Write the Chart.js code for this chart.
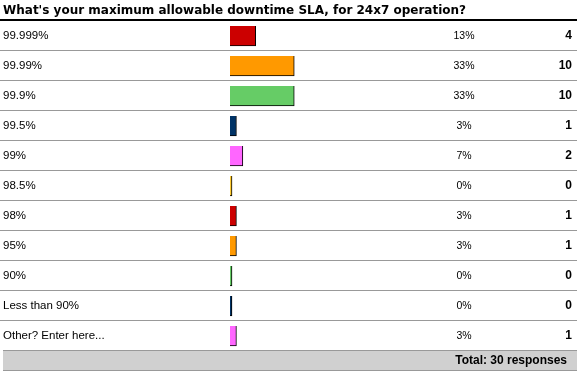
<!DOCTYPE html>
<html>
<head>
<meta charset="utf-8">
<script src="https://cdn.jsdelivr.net/npm/chart.js@4/dist/chart.umd.min.js"></script>
<style>
	html, body { margin: 0; padding: 0; background: #fff; }
	canvas { display: block; }
</style>
</head>
<body>
<canvas id="slaChart" width="577" height="375"></canvas>
<script>
const question = "What's your maximum allowable downtime SLA, for 24x7 operation?"
const answers = ["99.999%", "99.99%", "99.9%", "99.5%", "99%", "98.5%", "98%", "95%", "90%", "Less than 90%", "Other? Enter here..."]
const counts = [4, 10, 10, 1, 2, 0, 1, 1, 0, 0, 1]
const percents = [13, 33, 33, 3, 7, 0, 3, 3, 0, 0, 3]
const barColors = ["#cc0000", "#ff9900", "#66cc66", "#003366", "#ff66ff", "#ffcc33",
	"#cc0000", "#ff9900", "#66cc66", "#003366", "#ff66ff"]
const totalResponses = 30

const labelFont = "'Liberation Sans', Arial, sans-serif"

// lines, percent / count columns and the total band
const surveyTable = {
	id: "surveyTable",
	afterDatasetsDraw(chart) {
		const ctx = chart.ctx
		const area = chart.chartArea
		const y = chart.scales.y
		const w = chart.width
		ctx.save()

		// black rule under the question
		ctx.fillStyle = "#000"
		ctx.fillRect(0, area.top - 2, w, 2)

		// row separators
		ctx.fillStyle = "#999"
		for (let i = 0; i < answers.length - 1; i++) {
			const yy = Math.round((y.getPixelForValue(i) + y.getPixelForValue(i + 1)) / 2)
			ctx.fillRect(0, yy - 1, w, 1)
		}

		// total band
		const bandTop = Math.round(area.bottom)
		ctx.fillStyle = "#d0d0d0"
		ctx.fillRect(3, bandTop, w - 3, 19)
		ctx.fillStyle = "#999"
		ctx.fillRect(3, bandTop - 1, w - 3, 1)
		ctx.fillRect(3, bandTop + 19, w - 3, 1)

		ctx.textBaseline = "middle"
		ctx.fillStyle = "#000"
		answers.forEach((a, i) => {
			const yy = y.getPixelForValue(i)
			ctx.font = "10.5px " + labelFont
			ctx.textAlign = "center"
			ctx.fillText(percents[i] + "%", 464, yy)
			ctx.font = "bold 12px " + labelFont
			ctx.textAlign = "right"
			ctx.fillText(String(counts[i]), 572, yy)
		})

		ctx.font = "bold 12px " + labelFont
		ctx.textAlign = "right"
		ctx.fillText("Total: " + totalResponses + " responses", 567, bandTop + 10)
		ctx.restore()
	}
}

const slaChart = new Chart(document.getElementById("slaChart"), {
	type: "bar",
	data: {
		labels: answers,
		datasets: [{
			data: counts,
			backgroundColor: barColors,
			borderColor: "#000",
			borderWidth: { top: 0, left: 0, right: 1, bottom: 1 },
			borderSkipped: false,
			barThickness: 20,
			minBarLength: 2
		}]
	},
	options: {
		indexAxis: "y",
		responsive: false,
		animation: false,
		layout: { padding: { left: 3, right: 0, top: 0, bottom: 24 } },
		scales: {
			x: { display: false, min: 0, max: 54 },
			y: {
				grid: { display: false },
				border: { display: false },
				ticks: {
					crossAlign: "far",
					padding: 0,
					color: "#000",
					font: { family: labelFont, size: 11.5 }
				},
				afterFit: scale => { scale.width = 227 }
			}
		},
		plugins: {
			legend: { display: false },
			tooltip: { enabled: false },
			title: {
				display: true,
				text: question,
				align: "start",
				color: "#000",
				font: { family: "'DejaVu Sans', Verdana, sans-serif", size: 12, weight: "bold", lineHeight: "15px" },
				padding: { top: 3, bottom: 3 }
			}
		}
	},
	plugins: [surveyTable]
})
</script>
</body>
</html>
